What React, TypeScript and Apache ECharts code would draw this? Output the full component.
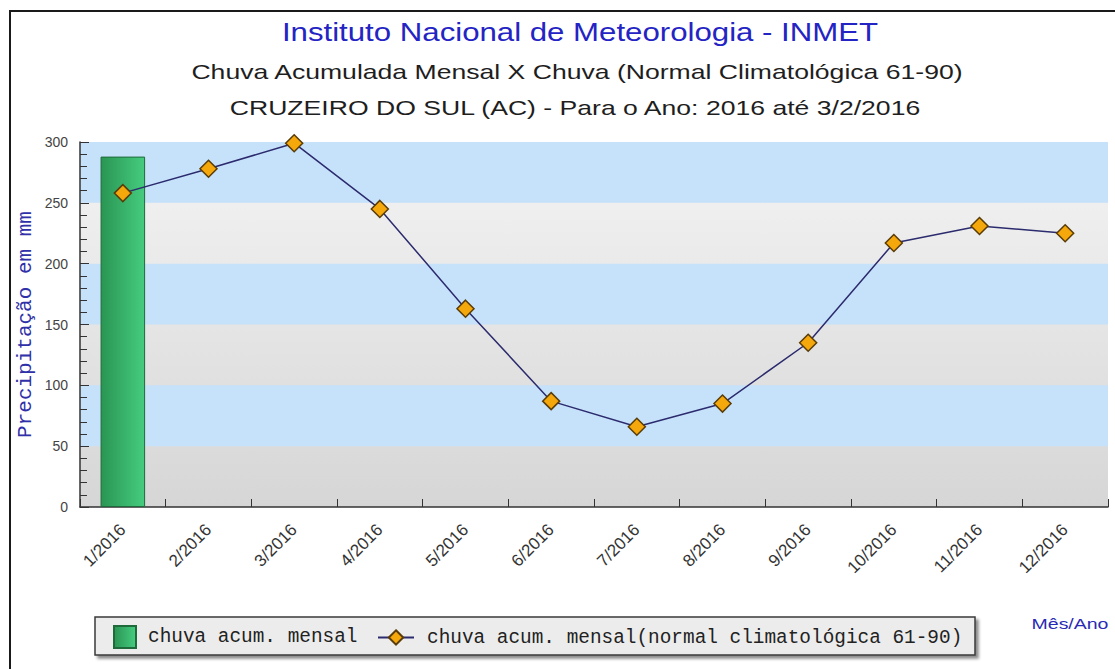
import React, { useEffect, useRef } from "react";
import * as echarts from "echarts";

const months = ["1/2016", "2/2016", "3/2016", "4/2016", "5/2016", "6/2016", "7/2016", "8/2016", "9/2016", "10/2016", "11/2016", "12/2016"];
const monthlyRain = [288, null, null, null, null, null, null, null, null, null, null, null];
const normalRain = [258, 278, 299, 245, 163, 87, 66, 85, 135, 217, 231, 225];
const barName = "chuva acum. mensal";
const lineName = "chuva acum. mensal(normal climatológica 61-90)";
const titleMain = "Instituto Nacional de Meteorologia - INMET";
const titleSub1 = "Chuva Acumulada Mensal X Chuva (Normal Climatológica 61-90)";
const titleSub2 = "CRUZEIRO DO SUL (AC) - Para o Ano: 2016 até 3/2/2016";
const yName = "Precipitação em mm";
const xName = "Mês/Ano";

export default function App() {
  const ref = useRef<HTMLDivElement>(null);
  useEffect(() => {
    if (!ref.current) return;
    const chart = echarts.init(ref.current, null, { renderer: "svg" });
    const sans = "'Liberation Sans', Arial, sans-serif";
    const mono = "'Liberation Mono', 'DejaVu Sans Mono', monospace";
    chart.setOption({
      animation: false,
      backgroundColor: "#ffffff",
      grid: {
        left: 80,
        right: 7,
        top: 142,
        bottom: 162,
        show: true,
        borderWidth: 0,
        backgroundColor: new echarts.graphic.LinearGradient(0, 0, 0, 1, [
          { offset: 0, color: "#f4f4f4" },
          { offset: 1, color: "#d6d6d6" },
        ]),
      },
      legend: [
        {
          data: [{ name: barName, icon: "rect" }],
          left: 113,
          top: 625,
          padding: 0,
          itemWidth: 22,
          itemHeight: 22,
          itemGap: 0,
          textStyle: { fontFamily: mono, fontSize: 19.4, color: "#222", padding: [0, 0, 0, 7] },
          z: 5,
        },
        {
          data: [{ name: lineName }],
          left: 377,
          top: 628,
          padding: 0,
          itemWidth: 36,
          itemHeight: 18,
          textStyle: { fontFamily: mono, fontSize: 19.4, color: "#222", padding: [0, 0, 0, 8] },
          z: 5,
        },
      ],
      xAxis: {
        type: "category",
        data: months,
        axisLine: { show: true, lineStyle: { color: "#333", width: 1.5 } },
        axisTick: { show: true, inside: true, length: 8, lineStyle: { color: "#333" } },
        axisLabel: {
          rotate: 45,
          margin: 20,
          fontFamily: sans,
          fontSize: 17,
          color: "#333",
        },
        splitLine: { show: false },
      },
      yAxis: {
        type: "value",
        min: 0,
        max: 300,
        interval: 50,
        name: yName,
        nameLocation: "middle",
        nameGap: 44,
        nameMoveOverlap: false,
        nameTextStyle: { fontFamily: mono, fontSize: 21, color: "#3030a8" },
        axisLine: { show: true, lineStyle: { color: "#333", width: 1.5 } },
        axisTick: { show: true, inside: true, length: 9, lineStyle: { color: "#333" } },
        minorTick: { show: true, splitNumber: 5, length: 7, lineStyle: { color: "#333" } },
        axisLabel: { fontFamily: sans, fontSize: 14, color: "#444", margin: 12 },
        splitLine: { show: false },
        splitArea: {
          show: true,
          areaStyle: { color: ["rgba(0,0,0,0)", "#c6e1fa"] },
        },
      },
      series: [
        {
          name: barName,
          type: "bar",
          data: monthlyRain,
          barWidth: "52%",
          itemStyle: {
            color: new echarts.graphic.LinearGradient(0, 0, 1, 0, [
              { offset: 0, color: "#2a9553" },
              { offset: 1, color: "#45cc7f" },
            ]),
            borderColor: "#1f6a3b",
            borderWidth: 1,
          },
        },
        {
          name: lineName,
          type: "line",
          data: normalRain,
          symbol: "diamond",
          symbolSize: 17,
          lineStyle: { color: "#2b2b6e", width: 1.5 },
          itemStyle: { color: "#f5a80c", borderColor: "#5a3c05", borderWidth: 1.5 },
          z: 3,
        },
      ],
      graphic: [
        {
          type: "line",
          shape: { x1: 9, y1: 11, x2: 1115, y2: 11 },
          style: { stroke: "#1a1a1a", lineWidth: 2 },
          z: 10,
        },
        {
          type: "line",
          shape: { x1: 10, y1: 10, x2: 10, y2: 669 },
          style: { stroke: "#1a1a1a", lineWidth: 2 },
          z: 10,
        },
        {
          type: "rect",
          shape: { x: 95, y: 617, width: 880, height: 38 },
          style: {
            fill: "#ececec",
            stroke: "#3a3a3a",
            lineWidth: 1.5,
            shadowBlur: 3,
            shadowOffsetX: 3,
            shadowOffsetY: 3,
            shadowColor: "rgba(0,0,0,0.45)",
          },
          z: 1,
        },
        {
          type: "text",
          x: 580,
          y: 19,
          scaleX: 1.2,
          style: { text: titleMain, font: "26px " + sans, fill: "#2424c4", textAlign: "center" },
          z: 10,
        },
        {
          type: "text",
          x: 577,
          y: 62,
          scaleX: 1.33,
          style: { text: titleSub1, font: "20px " + sans, fill: "#1e1e1e", textAlign: "center" },
          z: 10,
        },
        {
          type: "text",
          x: 575,
          y: 98,
          scaleX: 1.33,
          style: { text: titleSub2, font: "20px " + sans, fill: "#1e1e1e", textAlign: "center" },
          z: 10,
        },
        {
          type: "text",
          x: 1070,
          y: 616,
          scaleX: 1.3,
          style: { text: xName, font: "15px " + sans, fill: "#2a2ab4", textAlign: "center" },
          z: 10,
        },
      ],
    });
    return () => chart.dispose();
  }, []);
  return <div ref={ref} style={{ position: "absolute", left: 0, top: 0, width: 1115, height: 669 }} />;
}
